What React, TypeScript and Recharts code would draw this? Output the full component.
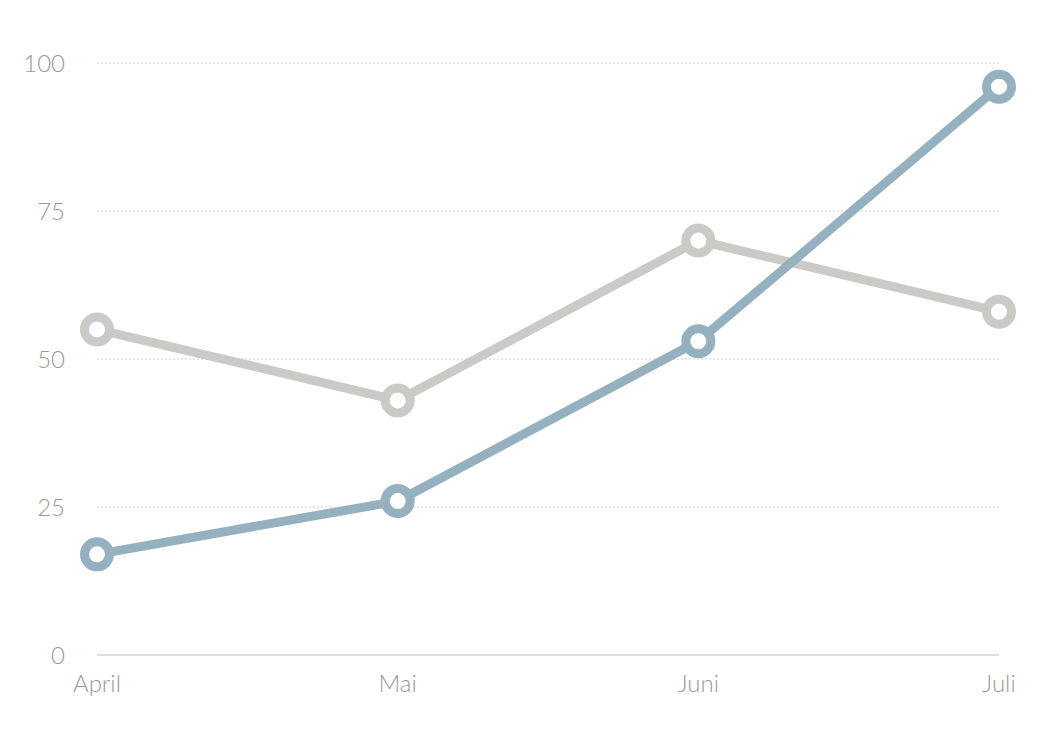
import { LineChart, Line, XAxis, YAxis, CartesianGrid } from 'recharts';

const months = ['April', 'Mai', 'Juni', 'Juli'];
const greySeries = [55, 43, 70, 58];
const blueSeries = [17, 26, 53, 96];
const yTicks = [0, 25, 50, 75, 100];

const data = months.map((month, i) => ({
    month,
    grey: greySeries[i],
    blue: blueSeries[i],
}));

const tickStyle = { fill: '#9a9a9a', fontSize: 24, fontFamily: 'Lato', fontWeight: 300 };

export default function App() {
    return (
        <LineChart
            width={1044}
            height={746}
            data={data}
            margin={{ top: 55, right: 53, bottom: 59, left: 0 }}
        >
            <CartesianGrid vertical={false} stroke="#d0d0d0" strokeDasharray="2 2" />
            <XAxis
                dataKey="month"
                tick={tickStyle}
                tickLine={false}
                tickSize={0}
                tickMargin={20}
                axisLine={{ stroke: '#d6d6d6', strokeWidth: 1.5 }}
                height={40}
                interval={0}
            />
            <YAxis
                domain={[0, 100]}
                ticks={yTicks}
                tick={tickStyle}
                tickLine={false}
                axisLine={false}
                tickSize={0}
                tickMargin={32}
                width={89}
            />
            <Line
                dataKey="grey"
                stroke="#cbcac6"
                strokeWidth={9}
                dot={{ r: 12.5, fill: '#fff', stroke: '#cbcac6', strokeWidth: 9 }}
                activeDot={false}
                isAnimationActive={false}
            />
            <Line
                dataKey="blue"
                stroke="#95b1bf"
                strokeWidth={9}
                dot={{ r: 12.5, fill: '#fff', stroke: '#95b1bf', strokeWidth: 9 }}
                activeDot={false}
                isAnimationActive={false}
            />
        </LineChart>
    );
}
